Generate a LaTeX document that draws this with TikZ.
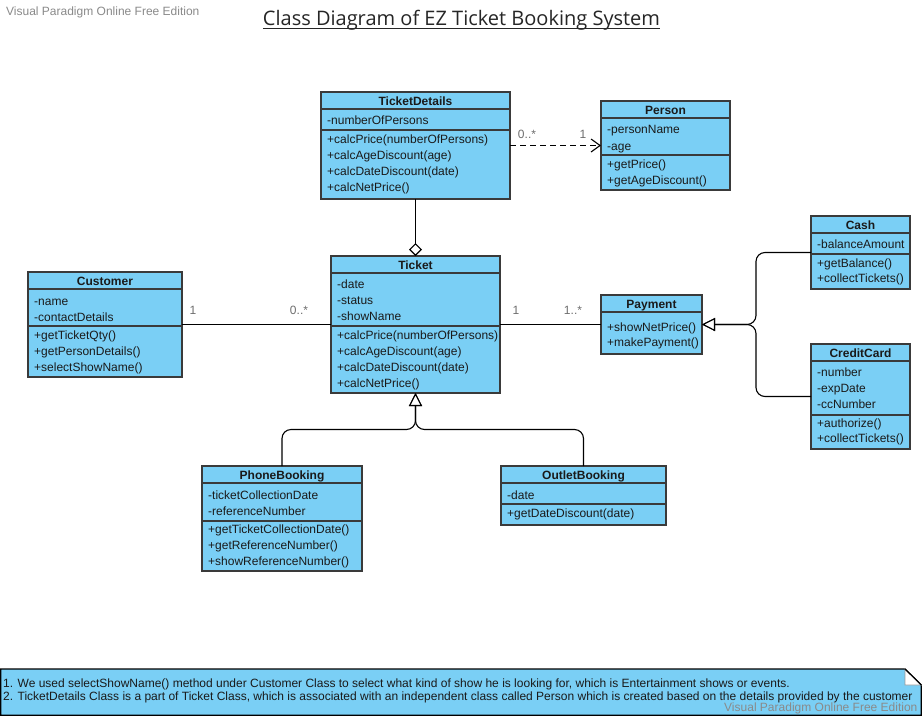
\documentclass[tikz,border=0pt]{standalone}
\usepackage{fontspec}
\setmainfont{Liberation Sans}
\newfontfamily\titlefont{Open Sans}
\usetikzlibrary{arrows.meta,calc}
\definecolor{clsfill}{HTML}{7ACFF5}
\definecolor{clsline}{HTML}{3A3A3A}
\definecolor{labgray}{HTML}{6E6E6E}
\definecolor{wmgray}{HTML}{8A8A8A}
\definecolor{txt}{HTML}{1A1A1A}
\tikzset{
 clsbox/.style={draw=clsline, fill=clsfill, line width=1.3pt, rectangle, inner sep=0pt, outer sep=0pt, anchor=north west},
 clsname/.style={font=\bfseries\fontsize{12}{14}\selectfont, text=txt, inner sep=0pt, anchor=base},
 mem/.style={font=\fontsize{12}{14}\selectfont, text=txt, inner sep=0pt, anchor=base west},
 sepline/.style={draw=clsline, line width=1.3pt},
 conn/.style={draw=black, line width=1.1pt},
 mult/.style={font=\fontsize{12}{14}\selectfont, text=labgray, inner sep=0pt, anchor=base},
 wm/.style={font=\fontsize{12}{14}\selectfont, text=wmgray, inner sep=0pt, anchor=base west},
 notetext/.style={font=\fontsize{12}{14}\selectfont, text=txt, inner sep=0pt, anchor=base west},
 gentip/.style={-{Triangle[length=13pt,width=13pt,fill=white,line width=1.1pt]}},
}
\newcommand{\umlclass}[6]{%
 \node[clsbox, minimum width={#4-#2}, minimum height={#5-#3}] (#1) at (#2,#3) {};
 \node[clsname] (#1-title) at ({(#2+#4)/2},{#3+13}) {#6};
 \draw[sepline] (#2,#3+17) -- (#4,#3+17);
}
\newcommand{\sepat}[3]{\draw[sepline] (#1,#3) -- (#2,#3);}
\newcommand{\members}[3]{\foreach \yy/\tx [count=\ii] in {#3} {\node[mem] (#1-m\ii) at ({#2+6},{\yy+4}) {\tx};}}
\begin{document}
\begin{tikzpicture}[x=1pt,y=-1pt]
\useasboundingbox[fill=white] (0,0) rectangle (922,716);

% title and watermark
\node[inner sep=0pt, anchor=base, font=\titlefont\fontsize{20}{24}\selectfont, text=black!85] (title) at (461.5,25) {Class Diagram of EZ Ticket Booking System};
\draw[line width=1pt, black!85] ([yshift=-3pt]title.base west) -- ([yshift=-3pt]title.base east);
\node[wm] (wm1) at (6,15) {Visual Paradigm Online Free Edition};

% classes
\umlclass{td}{321}{92}{510}{199}{TicketDetails}
\sepat{321}{510}{130}
\members{td}{321}{120/-numberOfPersons,139/+calcPrice(numberOfPersons),155/+calcAgeDiscount(age),171/+calcDateDiscount(date),187/+calcNetPrice()}

\umlclass{person}{601}{101}{730}{190}{Person}
\sepat{601}{730}{155}
\members{person}{601}{129/-personName,146/-age,164/+getPrice(),180/+getAgeDiscount()}

\umlclass{ticket}{331}{256}{500}{393}{Ticket}
\sepat{331}{500}{326}
\members{ticket}{331}{284/-date,300/-status,316/-showName,335/+calcPrice(numberOfPersons),351/+calcAgeDiscount(age),367/+calcDateDiscount(date),383/+calcNetPrice()}

\umlclass{customer}{28}{272}{182}{377}{Customer}
\sepat{28}{182}{326}
\members{customer}{28}{301/-name,317/-contactDetails,335/+getTicketQty(),351/+getPersonDetails(),367/+selectShowName()}

\umlclass{payment}{601}{295}{702}{354}{Payment}
\members{payment}{601}{327/+showNetPrice(),342/+makePayment()}

\umlclass{cash}{811}{216}{910}{289}{Cash}
\sepat{811}{910}{254}
\members{cash}{811}{244/-balanceAmount,263/+getBalance(),278/+collectTickets()}

\umlclass{cc}{811}{344}{910}{449}{CreditCard}
\sepat{811}{910}{415}
\members{cc}{811}{372/-number,388/-expDate,404/-ccNumber,423/+authorize(),438/+collectTickets()}

\umlclass{pb}{202}{466}{362}{571}{PhoneBooking}
\sepat{202}{362}{521}
\members{pb}{202}{495/-ticketCollectionDate,511/-referenceNumber,529/+getTicketCollectionDate(),545/+getReferenceNumber(),561/+showReferenceNumber()}

\umlclass{ob}{501}{466}{666}{525}{OutletBooking}
\sepat{501}{666}{504}
\members{ob}{501}{495/-date,513/+getDateDiscount(date)}

% connectors
\draw[conn, dash pattern=on 6pt off 4pt, -{Straight Barb[length=9pt,width=13pt,line width=1.1pt]}] (td.east) -- (person.west);
\draw[conn, -{Diamond[length=13pt,width=13pt,fill=white,line width=1.1pt]}] (td.south) -- (ticket.north);
\draw[conn] (customer.east) -- (ticket.west);
\draw[conn] (ticket.east) -- (payment.west);

\coordinate (pj) at ($(payment.east)+(54,0)$);
\draw[conn, rounded corners=9pt, gentip] (cash.west) -| (pj) -- (payment.east);
\draw[conn, rounded corners=9pt, gentip] (cc.west) -| (pj) -- (payment.east);

\coordinate (tj) at ($(ticket.south)+(0,36.5)$);
\draw[conn, rounded corners=9pt, gentip] (pb.north) |- (tj) -- (ticket.south);
\draw[conn, rounded corners=9pt, gentip] (ob.north) |- (tj) -- (ticket.south);

% multiplicities
\node[mult] (m1) at (527,138) {0..*};
\node[mult] (m2) at (583,138) {1};
\node[mult] (m3) at (193,314) {1};
\node[mult] (m4) at (299,314) {0..*};
\node[mult] (m5) at (516,314) {1};
\node[mult] (m6) at (573,314) {1..*};

% note
\path[draw=black, line width=1.3pt, fill=clsfill] (0.7,669) -- (905,669) -- (921.3,685) -- (921.3,715.3) -- (0.7,715.3) -- cycle;
\path[fill=white, draw=black!40, line width=0.6pt] (905,669) -- (905,685) -- (921.3,685) -- cycle;
\draw[line width=1.2pt] (905,669) -- (921.3,685);
\node[notetext] (n1) at (3,687) {1. We used selectShowName() method under Customer Class to select what kind of show he is looking for, which is Entertainment shows or events.};
\node[notetext] (n2) at (3,700) {2. TicketDetails Class is a part of Ticket Class, which is associated with an independent class called Person which is created based on the details provided by the customer};
\node[wm] (wm2) at (724,711) {Visual Paradigm Online Free Edition};
\end{tikzpicture}
\end{document}
